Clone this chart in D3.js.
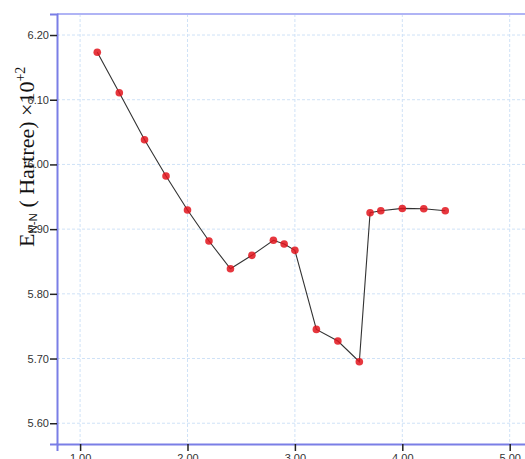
<!DOCTYPE html>
<html><head><meta charset="utf-8">
<script src="https://cdn.jsdelivr.net/npm/d3@7"></script>
<style>body{margin:0;background:#fff}svg{display:block}</style>
</head><body>
<svg id="c" width="525" height="459"></svg>
<script>
const xValues = [1.16, 1.365, 1.60, 1.80, 2.00, 2.20, 2.40, 2.60, 2.80, 2.90, 3.00, 3.20, 3.40, 3.60, 3.70, 3.80, 4.00, 4.20, 4.40];
const yValues = [6.1733, 6.1108, 6.0382, 5.982, 5.9295, 5.8816, 5.8388, 5.8595, 5.8827, 5.877, 5.8672, 5.745, 5.727, 5.695, 5.9254, 5.9285, 5.932, 5.9315, 5.9285];
const xTicks = [1, 2, 3, 4, 5];
const yTicks = [5.6, 5.7, 5.8, 5.9, 6.0, 6.1, 6.2];

const svg = d3.select("#c");
const mLeft = 57, mTop = 14, mBottom = 444, mRight = 540;
const x = d3.scaleLinear().domain([0.785, 1 + (mRight - 80.1) / 107.4]).range([mLeft, mRight]);
const y = d3.scaleLinear().domain([5.5679, 6.2325]).range([mBottom, mTop]);

// grid
svg.append("g").selectAll("line").data(xTicks).join("line")
  .attr("x1", d => x(d)).attr("x2", d => x(d)).attr("y1", mTop).attr("y2", mBottom)
  .attr("stroke", "#cfe2f7").attr("stroke-dasharray", "3,2").attr("stroke-width", 1);
svg.append("g").selectAll("line").data(yTicks).join("line")
  .attr("y1", d => y(d)).attr("y2", d => y(d)).attr("x1", mLeft).attr("x2", mRight)
  .attr("stroke", "#cfe2f7").attr("stroke-dasharray", "3,2").attr("stroke-width", 1);

// frame
svg.append("line").attr("x1", mLeft).attr("x2", mRight).attr("y1", mTop).attr("y2", mTop)
  .attr("stroke", "#b0b4f5").attr("stroke-width", 2);

// axes
const yAxis = d3.axisLeft(y).tickValues(yTicks).tickFormat(d3.format(".2f")).tickSize(7).tickPadding(1);
const gy = svg.append("g").attr("transform", `translate(${mLeft},0)`).call(yAxis);
gy.select(".domain").attr("stroke", "#7a7ee6").attr("stroke-width", 2);
gy.selectAll(".tick line").attr("stroke", "#222").attr("stroke-width", 1.5);
gy.selectAll(".tick text").attr("font-family", "Liberation Sans, Arial, sans-serif").attr("font-size", 11).attr("fill", "#333");

const xAxis = d3.axisBottom(x).tickValues(xTicks).tickFormat(d3.format(".2f")).tickSize(7).tickPadding(3);
const gx = svg.append("g").attr("transform", `translate(0,${mBottom})`).call(xAxis);
gx.select(".domain").attr("stroke", "#7a7ee6").attr("stroke-width", 2);
gx.selectAll(".tick line").attr("stroke", "#222").attr("stroke-width", 1.5);
gx.selectAll(".tick text").attr("font-family", "Liberation Sans, Arial, sans-serif").attr("font-size", 11).attr("fill", "#333");

// line
const pts = xValues.map((v, i) => [v, yValues[i]]);
svg.append("path").datum(pts)
  .attr("d", d3.line().x(d => x(d[0])).y(d => y(d[1])))
  .attr("fill", "none").attr("stroke", "#333").attr("stroke-width", 1.1);
svg.append("g").selectAll("circle").data(pts).join("circle")
  .attr("cx", d => x(d[0])).attr("cy", d => y(d[1])).attr("r", 3.8)
  .attr("fill", "#e2141c").attr("fill-opacity", 0.85);

// y title
const t = svg.append("text").attr("transform", "translate(34,247) rotate(-90)")
  .attr("font-family", "Liberation Serif, Times New Roman, serif").attr("font-size", 22).attr("fill", "#111");
t.append("tspan").text("E");
t.append("tspan").attr("font-family", "Liberation Sans, Arial, sans-serif").attr("font-size", 11.5).attr("dy", 2.5).text("N-N");
t.append("tspan").attr("dy", -2.5).text(" ( Hartree) ×10");
t.append("tspan").attr("font-size", 14).attr("dy", -9).text("+2");
</script>
</body></html>
